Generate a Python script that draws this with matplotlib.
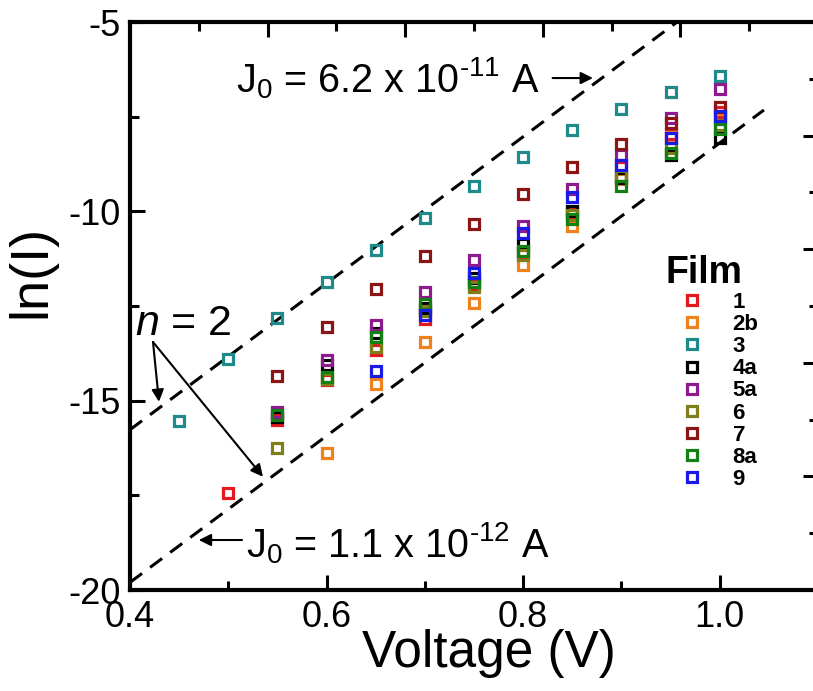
import numpy as np
import matplotlib.pyplot as plt
from matplotlib.ticker import MultipleLocator

plt.rcParams['font.family'] = ['Liberation Sans', 'DejaVu Sans']
plt.rcParams['mathtext.fontset'] = 'custom'
plt.rcParams['mathtext.rm'] = 'Liberation Sans'
plt.rcParams['mathtext.it'] = 'Liberation Sans:italic'
plt.rcParams['mathtext.bf'] = 'Liberation Sans:bold'
plt.rcParams['axes.unicode_minus'] = False

# ln(I) vs bias voltage for each film
films = ['1', '2b', '3', '4a', '5a', '6', '7', '8a', '9']
colors = ['#e3191f', '#f0821e', '#1f8a8a', '#000000', '#8e1b8e',
          '#7f7f1a', '#8b1414', '#138013', '#1a1ae6']

v_1 = [0.5, 0.55, 0.6, 0.65, 0.7, 0.75, 0.8, 0.85, 0.9, 0.95, 1.0]
lnI_1 = [-17.44, -15.51, -14.45, -13.66, -12.84, -11.95, -11.10, -10.05, -8.82, -7.95, -7.37]
v_2b = [0.6, 0.65, 0.7, 0.75, 0.8, 0.85, 0.9, 0.95, 1.0]
lnI_2b = [-16.38, -14.57, -13.44, -12.41, -11.43, -10.40, -9.15, -8.05, -7.55]
v_3 = [0.45, 0.5, 0.55, 0.6, 0.65, 0.7, 0.75, 0.8, 0.85, 0.9, 0.95, 1.0]
lnI_3 = [-15.54, -13.91, -12.82, -11.86, -11.02, -10.17, -9.33, -8.56, -7.85, -7.31, -6.84, -6.42]
v_4a = [0.55, 0.6, 0.65, 0.7, 0.75, 0.8, 0.85, 0.9, 0.95, 1.0]
lnI_4a = [-15.43, -14.06, -13.22, -12.55, -11.77, -10.85, -9.98, -9.12, -8.51, -8.07]
v_5a = [0.55, 0.6, 0.65, 0.7, 0.75, 0.8, 0.85, 0.9, 0.95, 1.0]
lnI_5a = [-15.29, -13.93, -13.00, -12.14, -11.28, -10.38, -9.42, -8.51, -7.54, -6.78]
v_6 = [0.55, 0.6, 0.65, 0.7, 0.75, 0.8, 0.85, 0.9, 0.95, 1.0]
lnI_6 = [-16.25, -14.42, -13.57, -12.62, -11.99, -11.15, -10.10, -9.08, -8.33, -7.72]
v_7 = [0.55, 0.6, 0.65, 0.7, 0.75, 0.8, 0.85, 0.9, 0.95, 1.0]
lnI_7 = [-14.35, -13.06, -12.06, -11.17, -10.33, -9.55, -8.84, -8.22, -7.68, -7.25]
v_8a = [0.55, 0.6, 0.65, 0.7, 0.75, 0.8, 0.85, 0.9, 0.95, 1.0]
lnI_8a = [-15.38, -14.38, -13.31, -12.45, -11.86, -11.06, -10.21, -9.33, -8.47, -7.83]
v_9 = [0.65, 0.7, 0.75, 0.8, 0.85, 0.9, 0.95, 1.0]
lnI_9 = [-14.21, -12.74, -11.64, -10.58, -9.61, -8.78, -8.07, -7.48]

volts = [v_1, v_2b, v_3, v_4a, v_5a, v_6, v_7, v_8a, v_9]
currents = [lnI_1, lnI_2b, lnI_3, lnI_4a, lnI_5a, lnI_6, lnI_7, lnI_8a, lnI_9]

# diode bounds, ideality n = 2
n_ideal = 2
vt = 0.02585
j0_upper = 6.2e-11
j0_lower = 1.1e-12
v_upper = [0.4, 1.0]
v_lower = [0.4, 1.045]

fig = plt.figure(figsize=(8.13, 6.91), dpi=100)
left, bottom, width, height = 130 / 813, 101 / 691, 688 / 813, 568 / 691
ax = fig.add_axes([left, bottom, width, height])

for v, lnI, c, name in zip(volts, currents, colors, films):
    ax.plot(v, lnI, ls='none', marker='s', ms=7, mew=2.3, mfc='none',
            mec=c, label=name, zorder=3)

for j0, vr in [(j0_upper, v_upper), (j0_lower, v_lower)]:
    vv = np.array(vr)
    ax.plot(vv, np.log(j0) + vv / (n_ideal * vt), color='k', lw=2.2,
            ls='--', dashes=(4.9, 3.3), zorder=2)

ax.set_xlim(0.4, 1.1)
ax.set_ylim(-20, -5)
ax.xaxis.set_major_locator(MultipleLocator(0.2))
ax.xaxis.set_minor_locator(MultipleLocator(0.1))
ax.yaxis.set_major_locator(MultipleLocator(5))
ax.yaxis.set_minor_locator(MultipleLocator(2.5))
ax.tick_params(which='both', direction='in', width=2.2, top=False, right=False,
               labelsize=26)
ax.tick_params(axis='x', pad=7)
ax.tick_params(axis='y', pad=7)
ax.tick_params(which='major', length=10.8)
ax.tick_params(which='minor', length=6.5)
for s in ax.spines.values():
    s.set_linewidth(3)

# extra unlabelled tick rows on the right and top edges (ten divisions each)
over = fig.add_axes([left, bottom, width, height], frameon=False)
over.set_xlim(0, 10)
over.set_ylim(0, 10)
over.set_xticks([])
over.set_yticks([2, 4, 6, 8])
over.set_yticks([1, 3, 5, 7, 9], minor=True)
over.tick_params(axis='y', which='both', direction='in', width=2.2,
                 left=False, right=True, labelleft=False, labelright=False)
over.tick_params(axis='y', which='major', length=10.8)
over.tick_params(axis='y', which='minor', length=6.5)

# flat strip along the top edge; its bottom ticks point down into the plot
strip = fig.add_axes([left, bottom + height, width, 1e-4], frameon=False)
strip.set_xlim(0, 10)
strip.set_yticks([])
strip.set_xticks([2, 4, 6, 8])
strip.set_xticks([1, 3, 5, 7, 9], minor=True)
strip.tick_params(axis='x', which='both', direction='out', width=2.2,
                  bottom=True, top=False, labelbottom=False, labeltop=False)
strip.tick_params(axis='x', which='major', length=10.8)
strip.tick_params(axis='x', which='minor', length=6.5)

ax.set_xlabel('Voltage (V)', fontsize=37)
ax.xaxis.set_label_coords(0.522, -0.068)
ax.set_ylabel('ln(I)', fontsize=39)
ax.yaxis.set_label_coords(-0.107, 0.56)

ax.text(0.817, -6.85, r'$\mathrm{J_0}$ = 6.2 x 10$^{‐11}$ A', ha='right',
        va='baseline', fontsize=28.5)
ax.annotate('', xy=(0.871, -6.48), xytext=(0.830, -6.48),
            arrowprops=dict(arrowstyle='-|>', color='k', lw=1.5,
                            mutation_scale=18, shrinkA=0, shrinkB=0))
ax.text(0.518, -19.13, r'$\mathrm{J_0}$ = 1.1 x 10$^{‐12}$ A', ha='left',
        va='baseline', fontsize=28.5)
ax.annotate('', xy=(0.470, -18.68), xytext=(0.514, -18.68),
            arrowprops=dict(arrowstyle='-|>', color='k', lw=1.5,
                            mutation_scale=18, shrinkA=0, shrinkB=0))

ax.text(0.405, -13.27, r'$n$ = 2', ha='left', va='baseline', fontsize=31)
for tip in [(0.4295, -15.03), (0.5353, -17.01)]:
    ax.annotate('', xy=tip, xytext=(0.4234, -13.45),
                arrowprops=dict(arrowstyle='-|>', color='k', lw=1.5,
                                mutation_scale=18, shrinkA=0, shrinkB=0))

ax.legend(title='Film', loc='upper left', bbox_to_anchor=(0.778, 0.59),
          frameon=False, prop={'weight': 'bold', 'size': 16},
          title_fontproperties={'weight': 'bold', 'size': 27},
          alignment='left', labelspacing=0.05, handletextpad=0.63,
          handlelength=2.4, borderaxespad=0, borderpad=0)

fig.savefig('out.png', dpi=100)
